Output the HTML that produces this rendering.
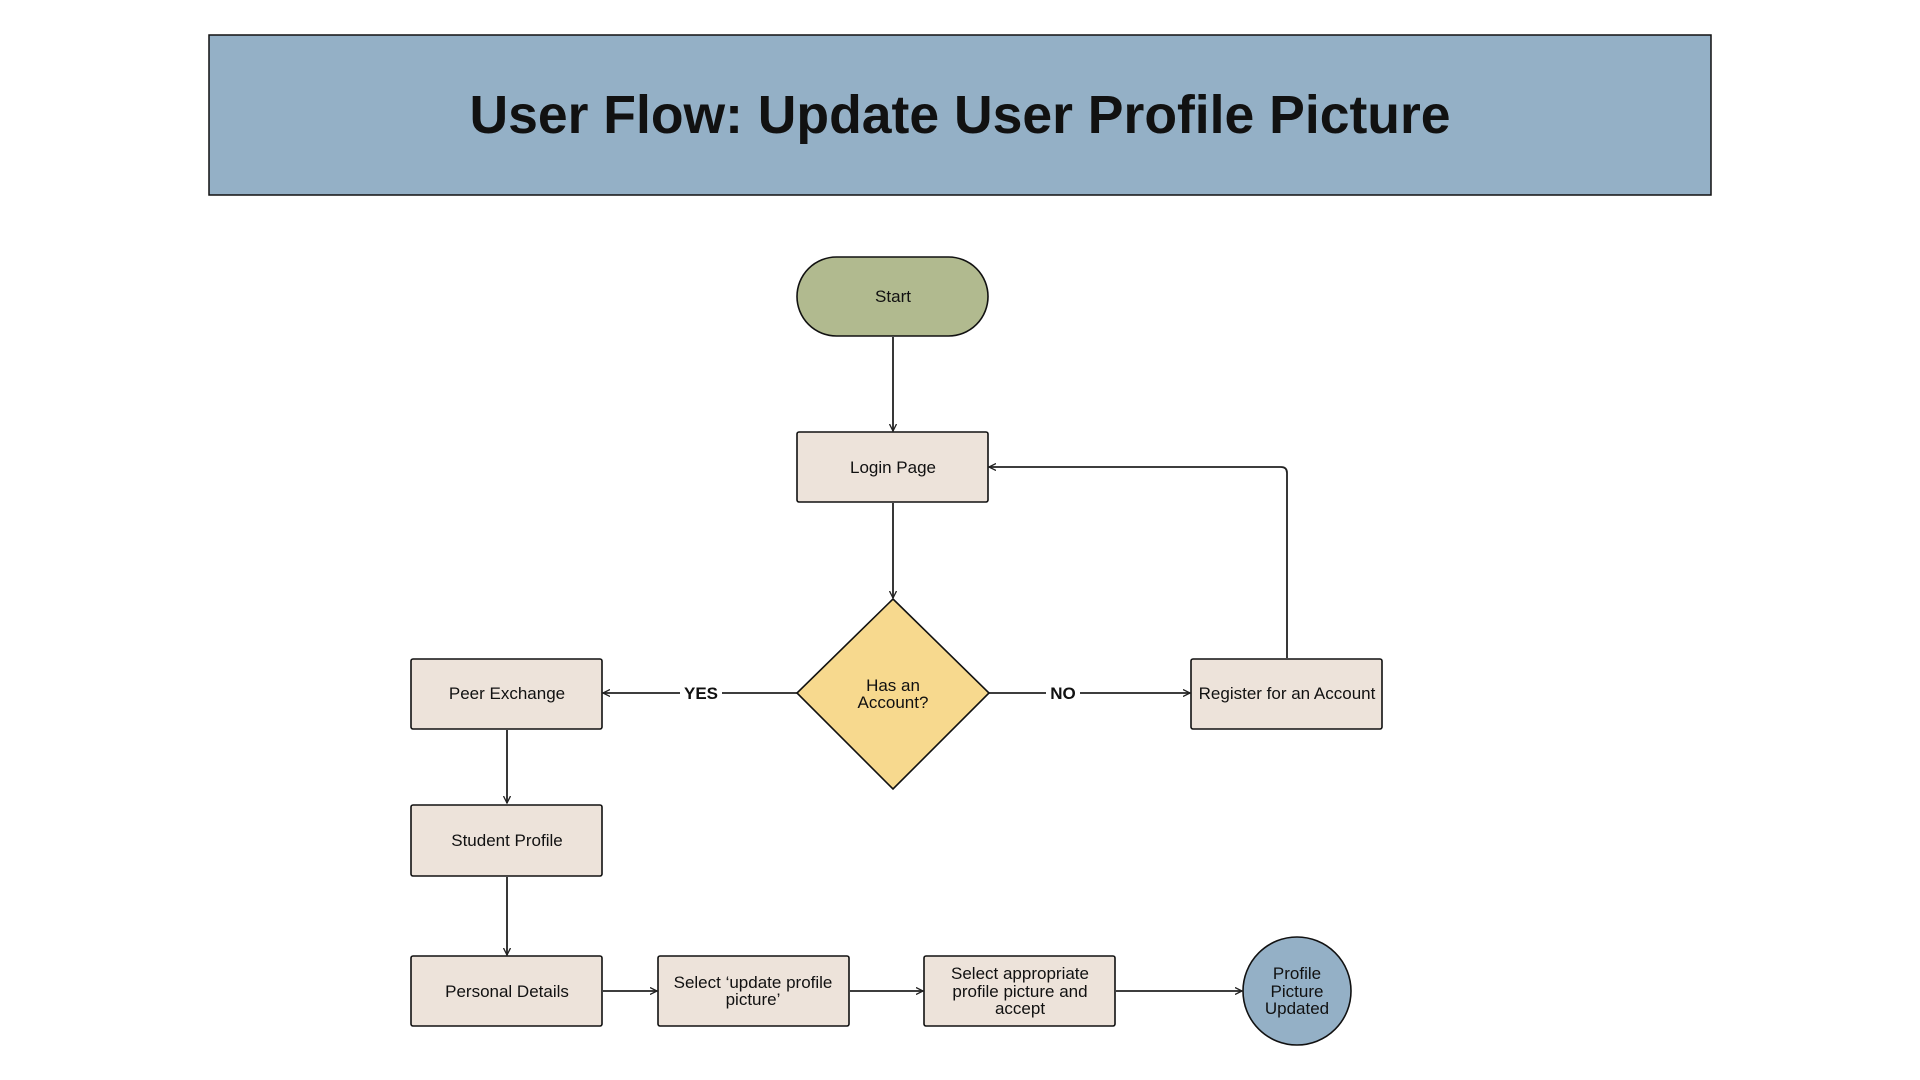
<!DOCTYPE html>
<html><head><meta charset="utf-8"><style>
html,body{margin:0;padding:0;background:#fff;}
svg{display:block}
text{font-family:"Liberation Sans",sans-serif;fill:#111;}
</style></head><body>
<svg width="1920" height="1080" viewBox="0 0 1920 1080" xmlns="http://www.w3.org/2000/svg">
<defs><marker id="a" markerWidth="8" markerHeight="8" refX="7" refY="4" orient="auto" markerUnits="userSpaceOnUse"><path d="M0,0.5 L7,4 L0,7.5" fill="none" stroke="#222" stroke-width="1.3"/></marker></defs>
<rect x="209" y="35" width="1502" height="160" fill="#94b0c6" stroke="#111" stroke-width="1.5"/>
<text x="960" y="133" font-size="53.5" font-weight="bold" text-anchor="middle">User Flow: Update User Profile Picture</text>
<g stroke="#222" stroke-width="1.8" fill="none">
<line x1="893" y1="337" x2="893" y2="431" marker-end="url(#a)"/>
<line x1="893" y1="503" x2="893" y2="598" marker-end="url(#a)"/>
<line x1="797" y1="693" x2="603" y2="693" marker-end="url(#a)"/>
<line x1="989" y1="693" x2="1190" y2="693" marker-end="url(#a)"/>
<path d="M1287 658 V473 Q1287 467 1281 467 H989" marker-end="url(#a)"/>
<line x1="507" y1="730" x2="507" y2="803" marker-end="url(#a)"/>
<line x1="507" y1="877" x2="507" y2="955" marker-end="url(#a)"/>
<line x1="603" y1="991" x2="657" y2="991" marker-end="url(#a)"/>
<line x1="850" y1="991" x2="923" y2="991" marker-end="url(#a)"/>
<line x1="1116" y1="991" x2="1242" y2="991" marker-end="url(#a)"/>
</g>
<rect x="680" y="680" width="42" height="24" fill="#fff"/>
<text x="701" y="699" font-size="17" font-weight="bold" text-anchor="middle">YES</text>
<rect x="1046" y="680" width="34" height="24" fill="#fff"/>
<text x="1063" y="699" font-size="17" font-weight="bold" text-anchor="middle">NO</text>
<g stroke="#111" stroke-width="1.6">
<rect x="797" y="257" width="191" height="79" rx="39.5" fill="#b1ba8f"/>
<rect x="797" y="432" width="191" height="70" rx="2" fill="#ede3da"/>
<polygon points="893,599 989,693 893,789 797,693" fill="#f7d98e"/>
<rect x="1191" y="659" width="191" height="70" rx="2" fill="#ede3da"/>
<rect x="411" y="659" width="191" height="70" rx="2" fill="#ede3da"/>
<rect x="411" y="805" width="191" height="71" rx="2" fill="#ede3da"/>
<rect x="411" y="956" width="191" height="70" rx="2" fill="#ede3da"/>
<rect x="658" y="956" width="191" height="70" rx="2" fill="#ede3da"/>
<rect x="924" y="956" width="191" height="70" rx="2" fill="#ede3da"/>
<ellipse cx="1297" cy="991" rx="54" ry="54" fill="#94b0c6"/>
</g>
<g font-size="17" text-anchor="middle">
<text x="893" y="302">Start</text>
<text x="893" y="473">Login Page</text>
<text x="893" y="691">Has an</text>
<text x="893" y="708">Account?</text>
<text x="1287" y="699">Register for an Account</text>
<text x="507" y="699">Peer Exchange</text>
<text x="507" y="846">Student Profile</text>
<text x="507" y="997">Personal Details</text>
<text x="753" y="988">Select ‘update profile</text>
<text x="753" y="1005">picture’</text>
<text x="1020" y="979">Select appropriate</text>
<text x="1020" y="997">profile picture and</text>
<text x="1020" y="1014">accept</text>
<text x="1297" y="979">Profile</text>
<text x="1297" y="997">Picture</text>
<text x="1297" y="1014">Updated</text>
</g>
</svg>
</body></html>
